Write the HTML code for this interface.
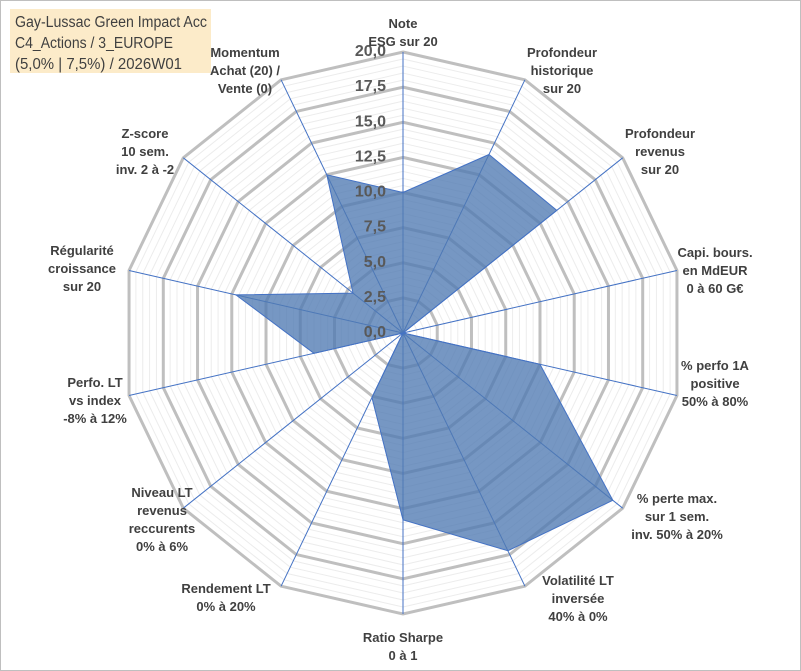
<!DOCTYPE html>
<html><head><meta charset="utf-8"><style>
html,body{margin:0;padding:0;background:#fff;}
svg{display:block;font-family:"Liberation Sans",sans-serif;}
</style></head><body>
<svg id="chart" width="801" height="671">
<rect x="0.5" y="0.5" width="800" height="670" fill="#fff" stroke="#bfbfbf"/>
<g id="grid"></g><g id="axes"></g><g id="series"></g><g id="ticks"></g><g id="labels"></g>
<rect x="10" y="9" width="201" height="64" fill="#fcebc9"/>
<text x="15" y="27" font-size="15.5" fill="#404040" textLength="192" lengthAdjust="spacingAndGlyphs">Gay-Lussac Green Impact Acc</text>
<text x="15" y="48" font-size="15.5" fill="#404040" textLength="158" lengthAdjust="spacingAndGlyphs">C4_Actions / 3_EUROPE</text>
<text x="15" y="69" font-size="15.5" fill="#404040" textLength="167" lengthAdjust="spacingAndGlyphs">(5,0% | 7,5%) / 2026W01</text>
</svg>
<script>
const categories=[["Note","ESG sur 20"],["Profondeur","historique","sur 20"],["Profondeur","revenus","sur 20"],["Capi. bours.","en MdEUR","0 à 60 G€"],["% perfo 1A","positive","50% à 80%"],["% perte max.","sur 1 sem.","inv. 50% à 20%"],["Volatilité LT","inversée","40% à 0%"],["Ratio Sharpe","0 à 1"],["Rendement LT","0% à 20%"],["Niveau LT","revenus","reccurents","0% à 6%"],["Perfo. LT","vs index","-8% à 12%"],["Régularité","croissance","sur 20"],["Z-score","10 sem.","inv. 2 à -2"],["Momentum","Achat (20) /","Vente (0)"]];
const values=[10,14.1,14,0,10,19.1,17.2,13.3,5.1,0,6.5,12.2,4.55,12.5];
const tickLabels=["0,0","2,5","5,0","7,5","10,0","12,5","15,0","17,5","20,0"];
const labelPos=[[403,28],[562,57],[660,138],[715,257],[715,370],[677,503],[578,585],[403,642],[226,593],[162,497],[95,387],[82,255],[145,138],[245,57]];
const cx=403,cy=333,R=281,maxV=20,N=categories.length;
const NS="http://www.w3.org/2000/svg";
function mk(t,a,p){const e=document.createElementNS(NS,t);for(const k in a)e.setAttribute(k,a[k]);p.appendChild(e);return e;}
function ang(i){return i*2*Math.PI/N;}
function pt(i,v){const r=v/maxV*R;return [cx+r*Math.sin(ang(i)),cy-r*Math.cos(ang(i))];}
const grid=document.getElementById('grid');
for(let s=1;s<=40;s++){const v=s*0.5;const major=s%5===0;
 const pts=[];for(let i=0;i<N;i++)pts.push(pt(i,v).join(','));
 const g=mk('polygon',{points:pts.join(' '),fill:'none',stroke:major?'#bfbfbf':'#ececec','stroke-width':major?3:1},grid);
 
 }
const axes=document.getElementById('axes');
for(let i=0;i<N;i++){const p=pt(i,maxV);const l=mk('line',{x1:cx,y1:cy,x2:p[0],y2:p[1],stroke:'#4472c4','stroke-width':1},axes);
 
 }
const ser=document.getElementById('series');
const sp=values.map((v,i)=>pt(i,v).join(',')).join(' ');
const poly=mk('polygon',{points:sp,fill:'rgba(79,122,178,0.78)',stroke:'#4472c4','stroke-width':1},ser);


const ticks=document.getElementById('ticks');
tickLabels.forEach((t,k)=>{const y=cy-(k*2.5)/maxV*R;const e=mk('text',{x:cx-17,y:y+4,'text-anchor':'end','font-size':16,'font-weight':'bold',fill:'#595959'},ticks);e.textContent=t;
 
 });
const labels=document.getElementById('labels');
categories.forEach((lines,i)=>{const [x,y]=labelPos[i];const t=mk('text',{x:x,y:y,'text-anchor':'middle','font-size':13,'font-weight':'bold',fill:'#404040'},labels);
 
 
 lines.forEach((s,j)=>{const ts=mk('tspan',{x:x,dy:j?18:0},t);ts.textContent=s;});});
</script>
</body></html>
